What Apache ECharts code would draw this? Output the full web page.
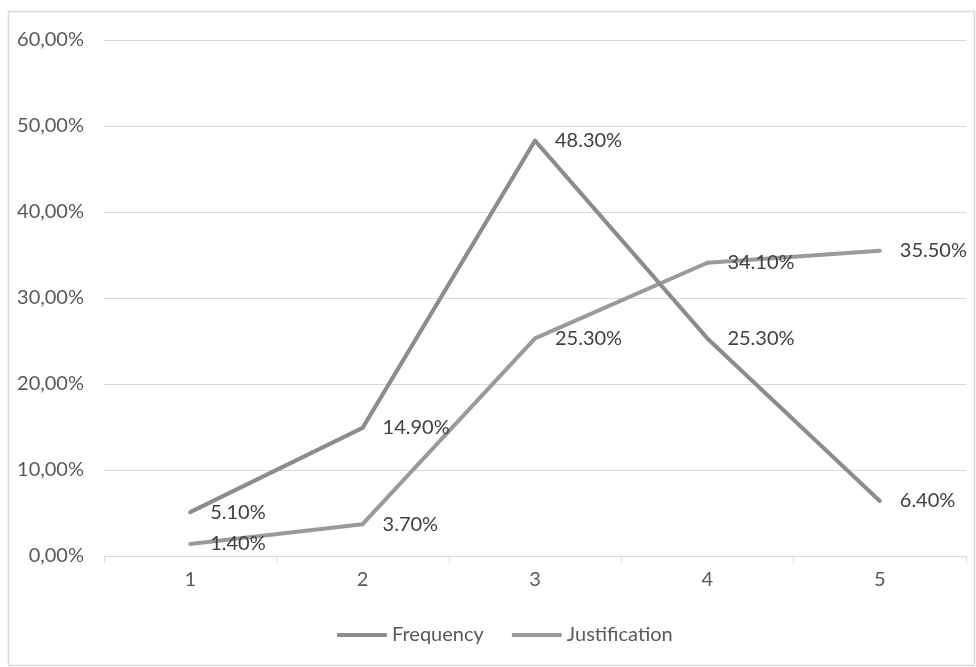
<!DOCTYPE html>
<html><head><meta charset="utf-8">
<script src="https://cdn.jsdelivr.net/npm/echarts@6/dist/echarts.min.js"></script>
<style>html,body{margin:0;padding:0;background:#fff}#c{width:976px;height:667px}</style>
</head><body><div id="c"></div>
<script>
const categories = ['1','2','3','4','5'];
const frequency = [5.1, 14.9, 48.3, 25.3, 6.4];
const justification = [1.4, 3.7, 25.3, 34.1, 35.5];
const yTicks = [0, 10, 20, 30, 40, 50, 60];
const seriesNames = ['Frequency', 'Justification'];

const FONT = 'Lato';
const chart = echarts.init(document.getElementById('c'), null, {renderer:'canvas'});
function fmtAxis(v){ return v.toFixed(2).replace('.', ',') + '%'; }
function fmtLabel(p){ return Number(p.value).toFixed(2) + '%'; }
const labelCfg = {show:true, position:'right', distance:18, formatter:fmtLabel,
  color:'#404040', fontFamily:FONT, fontSize:20};
chart.setOption({
  animation:false,
  backgroundColor:'#fff',
  graphic:[{type:'rect', shape:{x:8.5,y:11.5,width:966,height:654}, style:{fill:'none', stroke:'#d9d9d9', lineWidth:1.5}, silent:true, z:-1}],
  grid:{left:104, right:10, top:40, bottom:111, containLabel:false},
  legend:{bottom:17, left:332, itemWidth:50, itemHeight:4, itemGap:28, icon:'roundRect',
    textStyle:{color:'#595959', fontFamily:FONT, fontSize:20},
    data:seriesNames},
  xAxis:{type:'category', data:categories, boundaryGap:true,
    axisLine:{lineStyle:{color:'#d9d9d9', width:1}},
    axisTick:{show:true, alignWithLabel:false, length:7, lineStyle:{color:'#d9d9d9'}},
    axisLabel:{color:'#595959', fontFamily:FONT, fontSize:20, margin:14}},
  yAxis:{type:'value', min:yTicks[0], max:yTicks[yTicks.length-1], interval:10,
    axisLine:{show:false}, axisTick:{show:false},
    splitLine:{lineStyle:{color:'#d9d9d9', width:1}},
    axisLabel:{color:'#595959', fontFamily:FONT, fontSize:20, margin:20, formatter:fmtAxis}},
  series:[
    {name:seriesNames[0], type:'line', data:frequency, symbol:'circle', symbolSize:4, showSymbol:true, color:'#8c8c8c',
      itemStyle:{color:'#8c8c8c'},
      lineStyle:{width:4, color:'#8c8c8c'}, label:labelCfg, z:3},
    {name:seriesNames[1], type:'line', data:justification, symbol:'circle', symbolSize:4, showSymbol:true, color:'#9a9a9a',
      itemStyle:{color:'#9a9a9a'},
      lineStyle:{width:4, color:'#9a9a9a'}, label:labelCfg, z:2}
  ]
});
</script></body></html>
